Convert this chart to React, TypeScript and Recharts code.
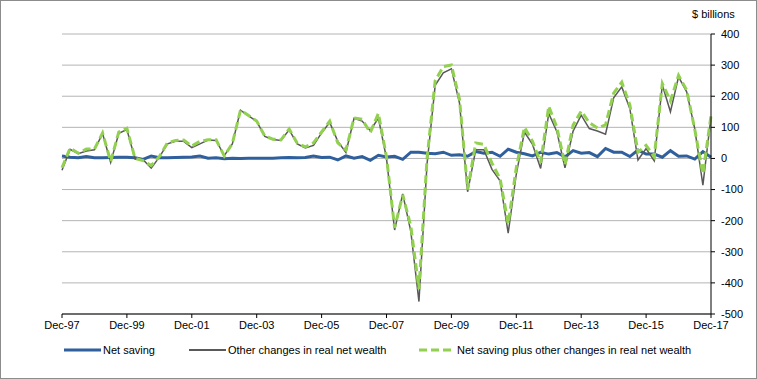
import { LineChart, Line, XAxis, YAxis, CartesianGrid } from 'recharts';

// quarterly, Dec-97 to Dec-17
const months = ['Mar', 'Jun', 'Sep', 'Dec'];
const quarters: string[] = ['Dec-97'];
for (let y = 1998; y <= 2017; y++) {
  for (const m of months) quarters.push(`${m}-${String(y).slice(2)}`);
}

const tickLabels = ['Dec-97', 'Dec-99', 'Dec-01', 'Dec-03', 'Dec-05', 'Dec-07', 'Dec-09', 'Dec-11', 'Dec-13', 'Dec-15', 'Dec-17'];
const yTicks = [-500, -400, -300, -200, -100, 0, 100, 200, 300, 400];

const netSaving = [
  8, 4, 2, 6, 2, 2, 3, 4, 4, 2, -3, 8, 2, 2, 3, 4, 5, 8, 1, 2,
  -1, 1, 0, 1, 1, 1, 1, 2, 3, 2, 3, 8, 3, 4, -5, 8, 1, 6, -6, 10,
  5, 7, -3, 20, 20, 17, 15, 20, 10, 12, 7, 22, 17, 20, 7, 30, 20, 15, 8, 20,
  14, 19, 5, 25, 17, 19, 6, 32, 20, 20, 6, 27, 14, 14, 4, 25, 7, 8, -2, 22,
  4,
];

const otherChanges = [
  -38, 29, 15, 24, 28, 80, -13, 81, 93, -2, -4, -31, 4, 47, 55, 55, 35, 47, 59, 58,
  9, 47, 155, 137, 119, 71, 61, 58, 92, 47, 34, 42, 82, 116, 55, 19, 129, 120, 89, 130,
  0, -230, -114, -235, -460, -17, 235, 275, 288, 178, -107, 28, 28, -35, -72, -240, -50, 85, 45, -32,
  145, 86, -30, 88, 139, 96, 88, 78, 195, 230, 160, -5, 32, -8, 236, 150, 262, 214, 95, -86,
  134,
];

const totalChange = [
  -30, 33, 17, 30, 30, 82, -10, 85, 97, 0, -7, -23, 6, 50, 58, 59, 40, 55, 60, 60,
  8, 48, 155, 138, 120, 72, 62, 60, 95, 49, 37, 50, 85, 120, 50, 27, 130, 126, 83, 145,
  5, -223, -117, -218, -420, 0, 250, 295, 300, 190, -100, 50, 45, -15, -65, -210, -30, 100, 55, -14,
  168, 100, -20, 107, 152, 115, 98, 108, 210, 245, 172, 20, 42, 5, 241, 185, 267, 220, 93, -50,
  137,
];

const data = quarters.map((q, i) => ({
  q,
  saving: netSaving[i],
  other: otherChanges[i],
  total: totalChange[i],
}));

const font = 'Liberation Sans, Arial, sans-serif';

export default function App() {
  return (
    <div
      style={{
        position: 'absolute',
        left: 0,
        top: 0,
        width: 757,
        height: 379,
        boxSizing: 'border-box',
        border: '1px solid #8c8c8c',
        background: '#fff',
        fontFamily: font,
      }}
    >
      <div style={{ position: 'absolute', left: 691, top: 7, fontSize: 11, color: '#000' }}>$ billions</div>
      <div style={{ position: 'absolute', left: -1, top: -1 }}>
        <LineChart width={757} height={379} data={data} margin={{ top: 34, right: 6, bottom: 35, left: 62 }}>
          <CartesianGrid vertical={false} stroke="#b4b4b4" strokeWidth={1} />
          <XAxis
            dataKey="q"
            ticks={tickLabels}
            interval={0}
            height={30}
            axisLine={{ stroke: '#000' }}
            tickLine={{ stroke: '#000' }}
            tickSize={4}
            tickMargin={3}
            tick={{ fill: '#000', fontSize: 11, fontFamily: font }}
          />
          <YAxis
            orientation="right"
            domain={[-500, 400]}
            ticks={yTicks}
            interval={0}
            width={40}
            axisLine={{ stroke: '#000' }}
            tickLine={{ stroke: '#000' }}
            tickSize={4}
            tickMargin={6}
            tick={{ fill: '#000', fontSize: 11, fontFamily: font }}
          />
          <Line dataKey="saving" stroke="#2f5f9c" strokeWidth={3} dot={false} activeDot={false} isAnimationActive={false} />
          <Line dataKey="other" stroke="#595959" strokeWidth={1.5} dot={false} activeDot={false} isAnimationActive={false} />
          <Line
            dataKey="total"
            stroke="#92d050"
            strokeWidth={3}
            strokeDasharray="8 4"
            dot={false}
            activeDot={false}
            isAnimationActive={false}
          />
        </LineChart>
      </div>
      {/* legend */}
      <svg style={{ position: 'absolute', left: 0, top: 0 }} width={757} height={379}>
        <line x1={63} x2={100} y1={349} y2={349} stroke="#2f5f9c" strokeWidth={3} />
        <line x1={188} x2={225} y1={349} y2={349} stroke="#595959" strokeWidth={2} />
        <line x1={418} x2={451} y1={349} y2={349} stroke="#92d050" strokeWidth={3} strokeDasharray="8 4" />
        <text x={102} y={353} fontSize={11} fontFamily={font} fill="#000">Net saving</text>
        <text x={227} y={353} fontSize={11} fontFamily={font} fill="#000">Other changes in real net wealth</text>
        <text x={456} y={353} fontSize={11} fontFamily={font} fill="#000">Net saving plus other changes in real net wealth</text>
      </svg>
    </div>
  );
}
